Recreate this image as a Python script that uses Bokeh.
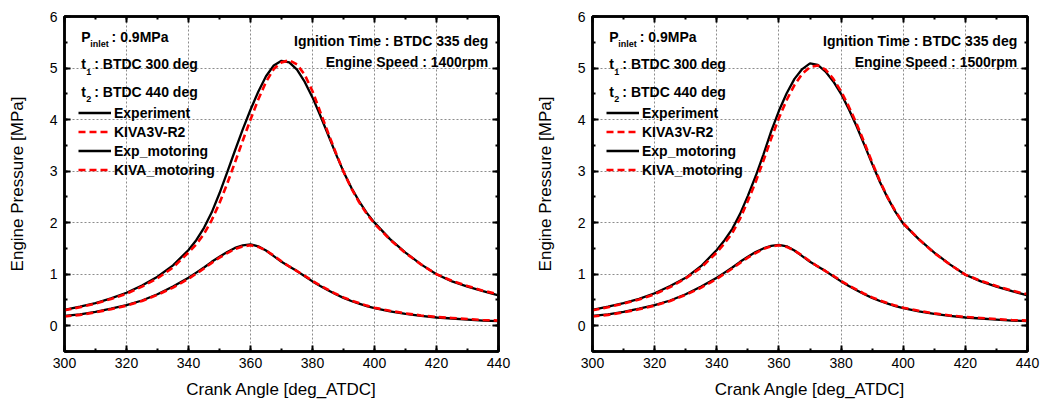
from bokeh.plotting import figure
from bokeh.models import (Range1d, SingleIntervalTicker, LinearAxis, Legend, LegendItem, Label,
                          CustomJSTickFormatter)
from bokeh.layouts import row
from bokeh.embed import file_html
from bokeh.resources import INLINE

# ---------------- data ----------------
angle = [300, 305, 310, 315, 320, 325, 330, 335, 340,
         342.5, 345, 347.5, 350, 352.5, 355, 357.5, 360, 362.5, 365, 367.5, 370,
         372.5, 375, 377.5, 380, 382.5, 385, 387.5, 390, 392.5, 395, 397.5, 400,
         405, 410, 415, 420, 425, 430, 435, 440]

# 1400 rpm panel
exp_1400 = [0.31, 0.37, 0.44, 0.53, 0.64, 0.78, 0.95, 1.17, 1.47,
            1.66, 1.90, 2.20, 2.57, 2.98, 3.40, 3.81, 4.19, 4.54, 4.84, 5.05, 5.14,
            5.11, 4.97, 4.73, 4.43, 4.08, 3.71, 3.34, 2.99, 2.68, 2.42, 2.19, 2.00,
            1.68, 1.42, 1.19, 1.00, 0.86, 0.76, 0.67, 0.59]
kiva_1400 = [0.30, 0.36, 0.43, 0.52, 0.62, 0.76, 0.92, 1.13, 1.42,
             1.58, 1.78, 2.05, 2.38, 2.76, 3.17, 3.59, 4.00, 4.39, 4.73, 4.98, 5.11,
             5.15, 5.07, 4.87, 4.55, 4.15, 3.75, 3.36, 2.99, 2.67, 2.40, 2.17, 1.98,
             1.67, 1.41, 1.19, 1.00, 0.87, 0.77, 0.68, 0.61]
expm_1400 = [0.19, 0.22, 0.27, 0.33, 0.40, 0.49, 0.61, 0.76, 0.93,
             1.03, 1.13, 1.24, 1.34, 1.43, 1.51, 1.56, 1.58, 1.54, 1.46, 1.35, 1.24,
             1.15, 1.06, 0.96, 0.86, 0.77, 0.69, 0.61, 0.54, 0.48, 0.43, 0.38, 0.34,
             0.28, 0.23, 0.19, 0.16, 0.14, 0.12, 0.10, 0.09]
kivam_1400 = [0.18, 0.21, 0.26, 0.32, 0.39, 0.48, 0.60, 0.74, 0.91,
              1.01, 1.11, 1.22, 1.32, 1.41, 1.49, 1.54, 1.56, 1.53, 1.46, 1.36, 1.25,
              1.15, 1.06, 0.97, 0.87, 0.78, 0.70, 0.62, 0.55, 0.49, 0.44, 0.39, 0.35,
              0.29, 0.24, 0.20, 0.17, 0.15, 0.13, 0.11, 0.10]

# 1500 rpm panel
exp_1500 = [0.31, 0.37, 0.44, 0.52, 0.63, 0.77, 0.93, 1.16, 1.47,
            1.66, 1.88, 2.17, 2.52, 2.90, 3.32, 3.77, 4.17, 4.51, 4.79, 4.98, 5.09,
            5.06, 4.93, 4.74, 4.50, 4.20, 3.87, 3.51, 3.14, 2.79, 2.48, 2.21, 1.98,
            1.68, 1.42, 1.19, 0.99, 0.86, 0.76, 0.67, 0.59]
kiva_1500 = [0.30, 0.36, 0.43, 0.51, 0.61, 0.75, 0.92, 1.13, 1.42,
             1.60, 1.80, 2.08, 2.42, 2.79, 3.20, 3.63, 4.03, 4.38, 4.67, 4.89, 5.02,
             5.05, 4.97, 4.79, 4.55, 4.25, 3.92, 3.55, 3.17, 2.81, 2.49, 2.22, 1.99,
             1.68, 1.41, 1.19, 0.99, 0.87, 0.77, 0.68, 0.61]
expm_1500 = [0.19, 0.22, 0.27, 0.33, 0.40, 0.49, 0.61, 0.76, 0.93,
             1.03, 1.13, 1.24, 1.34, 1.43, 1.50, 1.55, 1.57, 1.54, 1.46, 1.35, 1.24,
             1.15, 1.06, 0.96, 0.86, 0.77, 0.69, 0.61, 0.54, 0.48, 0.43, 0.38, 0.34,
             0.28, 0.23, 0.19, 0.16, 0.14, 0.12, 0.10, 0.09]
kivam_1500 = [0.18, 0.21, 0.26, 0.32, 0.39, 0.48, 0.60, 0.74, 0.91,
              1.01, 1.11, 1.22, 1.32, 1.41, 1.49, 1.54, 1.56, 1.53, 1.46, 1.36, 1.25,
              1.15, 1.06, 0.97, 0.87, 0.78, 0.70, 0.62, 0.55, 0.49, 0.44, 0.39, 0.35,
              0.29, 0.24, 0.20, 0.17, 0.15, 0.13, 0.11, 0.10]

series_names = ["Experiment", "KIVA3V-R2", "Exp_motoring", "KIVA_motoring"]
speed_labels = ["Engine Speed : 1400rpm", "Engine Speed : 1500rpm"]
ignition_label = "Ignition Time : BTDC 335 deg"
x_title = "Crank Angle [deg_ATDC]"
y_title = "Engine Pressure [MPa]"

FONT = "Liberation Sans"


def style_axis(ax, show_labels=True):
    ax.major_tick_in = 6
    ax.major_tick_out = 0
    ax.minor_tick_in = 3
    ax.minor_tick_out = 0
    ax.major_tick_line_width = 2
    ax.minor_tick_line_width = 2
    ax.major_tick_line_color = "black"
    ax.minor_tick_line_color = "black"
    ax.axis_line_width = 2.5
    ax.axis_line_color = "black"
    ax.major_label_text_font = FONT
    ax.major_label_text_font_size = "14px"
    ax.major_label_text_color = "black"
    ax.major_label_standoff = 6
    ax.axis_label_text_font = FONT
    ax.axis_label_text_font_size = "17px"
    ax.axis_label_text_font_style = "normal"
    ax.axis_label_text_color = "black"
    if not show_labels:
        ax.formatter = CustomJSTickFormatter(code="return ''")
        ax.major_label_text_font_size = "1px"
        ax.major_label_standoff = 0


def make_panel(exp, kiva, expm, kivam, speed_text, width, left_b, right_b, top_b):
    p = figure(width=width, height=405, output_backend="svg", toolbar_location=None,
               x_range=Range1d(300, 440), y_range=Range1d(-0.5, 6),
               min_border_left=left_b, min_border_right=right_b,
               min_border_top=top_b, min_border_bottom=405 - top_b - 336)
    p.background_fill_color = "white"
    p.border_fill_color = "white"
    p.outline_line_color = "black"
    p.outline_line_width = 2.5

    xt = SingleIntervalTicker(interval=20, num_minor_ticks=2)
    yt = SingleIntervalTicker(interval=1, num_minor_ticks=2)
    p.xaxis.ticker = xt
    p.yaxis.ticker = yt
    p.xgrid.ticker = xt
    p.ygrid.ticker = yt
    for g in (p.xgrid, p.ygrid):
        g.grid_line_color = "#8c8c8c"
        g.grid_line_dash = "2 2"
        g.grid_line_width = 1
    p.xaxis.axis_label = x_title
    p.yaxis.axis_label = y_title
    style_axis(p.xaxis[0])
    style_axis(p.yaxis[0])
    p.xaxis.axis_label_standoff = 9
    p.yaxis.axis_label_standoff = 20
    p.yaxis.major_label_standoff = 7

    top_ax = LinearAxis(ticker=xt)
    style_axis(top_ax, show_labels=False)
    right_ax = LinearAxis(ticker=yt)
    style_axis(right_ax, show_labels=False)
    p.add_layout(top_ax, "above")
    p.add_layout(right_ax, "right")

    r1 = p.line(angle, exp, line_color="black", line_width=2.3)
    r3 = p.line(angle, expm, line_color="black", line_width=2.3)
    r2 = p.line(angle, kiva, line_color="#ff0000", line_width=2.6, line_dash="7 4")
    r4 = p.line(angle, kivam, line_color="#ff0000", line_width=2.6, line_dash="7 4")

    legend = Legend(items=[LegendItem(label=series_names[0], renderers=[r1]),
                           LegendItem(label=series_names[1], renderers=[r2]),
                           LegendItem(label=series_names[2], renderers=[r3]),
                           LegendItem(label=series_names[3], renderers=[r4])],
                    location=(14, 172), orientation="vertical",
                    background_fill_alpha=0, border_line_alpha=0,
                    padding=0, margin=0, spacing=0,
                    glyph_width=33, glyph_height=19, label_height=19, label_standoff=3,
                    label_text_font=FONT, label_text_font_size="14px",
                    label_text_font_style="bold", label_text_color="black")
    p.add_layout(legend, "center")

    def lab(x, y, t, size="14px", align="left"):
        p.add_layout(Label(x=x, y=y, text=t, text_font=FONT, text_font_size=size,
                           text_font_style="bold", text_color="black",
                           text_align=align, text_baseline="middle"))

    lab(305.4, 5.61, "P")
    lab(308.3, 5.46, "inlet", size="9px")
    lab(315.2, 5.61, ": 0.9MPa")
    lab(305.4, 5.07, "t")
    lab(307.0, 4.93, "1", size="9px")
    lab(309.6, 5.07, ": BTDC 300 deg")
    lab(305.4, 4.53, "t")
    lab(307.0, 4.39, "2", size="9px")
    lab(309.6, 4.53, ": BTDC 440 deg")
    lab(436.7, 5.53, ignition_label, align="right")
    lab(436.7, 5.11, speed_text, align="right")
    return p


p1 = make_panel(exp_1400, kiva_1400, expm_1400, kivam_1400, speed_labels[0], 520, 64, 22, 16)
p2 = make_panel(exp_1500, kiva_1500, expm_1500, kivam_1500, speed_labels[1], 522, 72, 15, 15)

layout = row(p1, p2)
open("out.html", "w").write(file_html(layout, INLINE))
